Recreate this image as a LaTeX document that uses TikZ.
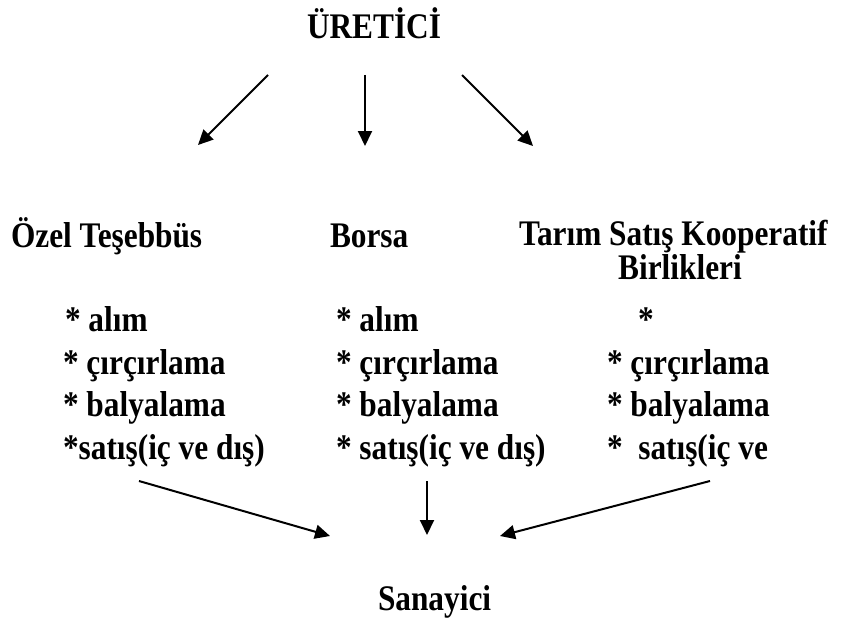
\documentclass[tikz,border=0pt]{standalone}
\usepackage{fontspec}
\setmainfont{Liberation Serif}[FakeStretch=0.87]
\usetikzlibrary{arrows.meta}
\tikzset{
  txt/.style={inner sep=0pt, outer sep=0pt, anchor=base west, font=\bfseries\fontsize{36}{40}\selectfont},
  arr/.style={line width=2pt, -{Triangle[length=15pt,width=14pt]}}
}
\begin{document}
\begin{tikzpicture}[x=1pt,y=-1pt]
\useasboundingbox (0,0) rectangle (844,618);
% titles
\node[txt] (uretici) at (307,39) {ÜRETİCİ};
\node[txt] (ozel) at (11,247) {Özel Teşebbüs};
\node[txt] (borsa) at (330,247) {Borsa};
\node[txt] (tarim) at (519,245) {Tarım Satış Kooperatif};
\node[txt, anchor=base] (birlik) at (680,279) {Birlikleri};
\node[txt] (sanayici) at (378,610) {Sanayici};
% left column
\node[txt] (l1) at (65,331) {* alım};
\node[txt] (l2) at (63,374) {* çırçırlama};
\node[txt] (l3) at (63,416) {* balyalama};
\node[txt] (l4) at (63,459) {*satış(iç ve dış)};
% middle column
\node[txt] (m1) at (336,331) {* alım};
\node[txt] (m2) at (336,374) {* çırçırlama};
\node[txt] (m3) at (336,416) {* balyalama};
\node[txt] (m4) at (336,459) {* satış(iç ve dış)};
% right column
\node[txt] (r1) at (638,331) {*};
\node[txt] (r2) at (607,374) {* çırçırlama};
\node[txt] (r3) at (607,416) {* balyalama};
\node[txt] (r4) at (607,459) {*\ \ satış(iç ve};
% arrow endpoints
\coordinate (t1s) at (268,75);  \coordinate (t1e) at (198,145);
\coordinate (t2s) at (365,75);  \coordinate (t2e) at (365,146);
\coordinate (t3s) at (462,75);  \coordinate (t3e) at (533,146);
\coordinate (b1s) at (139,481); \coordinate (b1e) at (330,536);
\coordinate (b2s) at (427,481); \coordinate (b2e) at (427,535);
\coordinate (b3s) at (710,481); \coordinate (b3e) at (500,536);
\draw[arr] (t1s) -- (t1e);
\draw[arr] (t2s) -- (t2e);
\draw[arr] (t3s) -- (t3e);
\draw[arr] (b1s) -- (b1e);
\draw[arr] (b2s) -- (b2e);
\draw[arr] (b3s) -- (b3e);
\end{tikzpicture}
\end{document}
